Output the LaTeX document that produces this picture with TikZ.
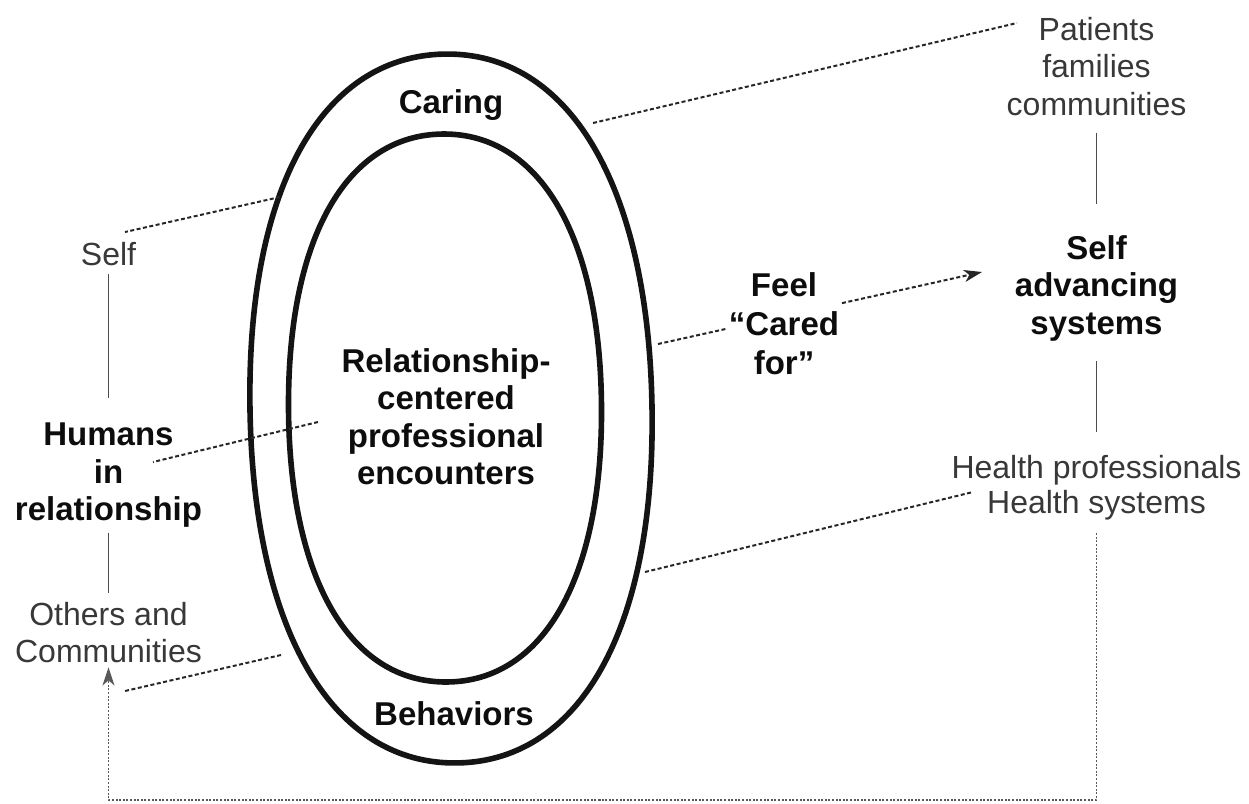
\documentclass[tikz,border=0pt]{standalone}
\usepackage{fontspec}
\setmainfont{Liberation Sans}
\usetikzlibrary{arrows.meta,calc}
\definecolor{txtgray}{gray}{0.22}
\definecolor{boldtxt}{gray}{0.05}
\definecolor{linegray}{gray}{0.3}
\newcommand{\myoval}[5]{%
  \begin{scope}[shift={(#1,#2)},rotate=#5]
    \draw[oval] (#3,0) .. controls (#3,0.62*#4) and (0.62*#3,#4) .. (0,#4)
      .. controls (-0.62*#3,#4) and (-#3,0.62*#4) .. (-#3,0)
      .. controls (-#3,-0.62*#4) and (-0.62*#3,-#4) .. (0,-#4)
      .. controls (0.62*#3,-#4) and (#3,-0.62*#4) .. (#3,0) -- cycle;
  \end{scope}}
\begin{document}
\begin{tikzpicture}[x=1pt,y=-1pt,
  lab/.style={font=\fontsize{32}{37.5}\selectfont, text=txtgray, align=center, inner sep=0pt, anchor=north},
  blab/.style={font=\fontsize{33}{37.5}\selectfont\bfseries, text=boldtxt, align=center, inner sep=0pt, anchor=north},
  solidline/.style={draw=linegray, line width=1.8pt},
  dashline/.style={draw=black!85, line width=2pt, dash pattern=on 4pt off 2.5pt},
  dotline/.style={draw=black!65, line width=1.8pt, dash pattern=on 2pt off 1.6pt},
  oval/.style={line width=5.6pt, draw=black!92},
  tip/.style={-{Stealth[length=18pt,width=12pt,inset=5pt]}}
]
\useasboundingbox (0,0) rectangle (1249,803);

% ovals
\myoval{451}{408.5}{201}{354.5}{1.1}
\myoval{445}{408}{156.5}{274}{0.4}

% text nodes
\node[blab] (caring) at (451,89) {Caring};
\node[blab] (behav) at (454,701) {Behaviors};
\node[blab] (rce) at (446,348) {Relationship-\\centered\\professional\\encounters};
\node[lab] (self) at (108.5,242) {Self};
\node[blab] (humans) at (108.5,423) {Humans\\in\\relationship};
\node[lab] (others) at (108.5,602) {Others and\\Communities};
\node[lab] (patients) at (1096.5,17) {Patients\\families\\communities};
\node[blab] (sas) at (1096.5,235) {Self\\advancing\\systems};
\node[lab, font=\fontsize{32}{35}\selectfont] (health) at (1096.5,455) {Health professionals\\Health systems};

% free-end coordinates
\coordinate (eSelf) at (280,197);  \coordinate (lSelf) at (125,232);
\coordinate (eHum)  at (318,422);  \coordinate (lHum)  at (153,462);
\coordinate (eOth)  at (281,655);  \coordinate (lOth)  at (125,691);
\coordinate (ePat)  at (593,123);  \coordinate (lPat)  at (1017,23);
\coordinate (eHea)  at (645,572);  \coordinate (lHea)  at (973,492);
\coordinate (eFeel) at (658,344);  \coordinate (tFeel) at (982,272);
\coordinate (loop)  at (600,800);

% solid links
\draw[solidline, shorten <=8pt, shorten >=25pt] (self.south) -- (humans.north);
\draw[solidline, shorten <=5pt, shorten >=9pt] (humans.south) -- (others.north);
\draw[solidline, shorten <=17pt, shorten >=31pt] (patients.south) -- (sas.north);
\draw[solidline, shorten <=20pt, shorten >=23pt] (sas.south) -- (health.north);

% dashed links
\draw[dashline] (eSelf) -- (lSelf);
\draw[dashline] (eHum) -- (lHum);
\draw[dashline] (eOth) -- (lOth);
\draw[dashline] (ePat) -- (lPat);
\draw[dashline] (eHea) -- (lHea);
\draw[dashline, tip] (eFeel) -- (tFeel);

% feel label over its arrow
\node[blab, font=\fontsize{33}{39}\selectfont\bfseries, fill=white, inner sep=2pt] (feel) at (784,270) {Feel\\“Cared\\for”};

% feedback loop
\draw[dotline, tip, shorten <=13pt, shorten >=4pt] (health.south) |- (loop) -| (others.south);
\end{tikzpicture}
\end{document}
